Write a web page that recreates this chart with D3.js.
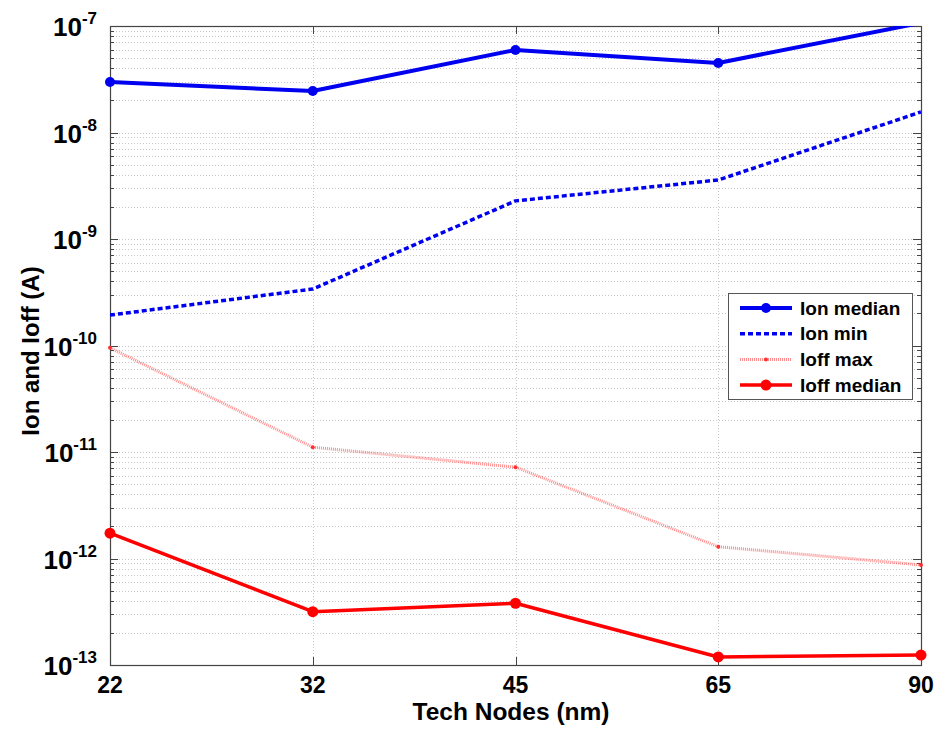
<!DOCTYPE html>
<html>
<head>
<meta charset="utf-8">
<script src="https://cdn.jsdelivr.net/npm/d3@7"></script>
<style>
  body { margin: 0; background: #fff; }
  text { font-family: "Liberation Sans", Arial, sans-serif; font-weight: bold; fill: #000; }
</style>
</head>
<body>
<script>
// data
const nodes = ['22', '32', '45', '65', '90'];
const ionMedian = [2.98e-8, 2.45e-8, 5.96e-8, 4.5e-8, 1.07e-7];
const ionMin = [1.93e-10, 3.39e-10, 2.28e-9, 3.58e-9, 1.56e-8];
const ioffMax = [9.5e-11, 1.11e-11, 7.2e-12, 1.29e-12, 8.7e-13];
const ioffMedian = [1.73e-12, 3.17e-13, 3.8e-13, 1.19e-13, 1.24e-13];
const decades = [-13, -12, -11, -10, -9, -8, -7];

const W = 949, H = 729;
const plotL = 110, plotR = 921, plotT = 26, plotB = 665;

const svg = d3.select('body').append('svg').attr('width', W).attr('height', H);

const x = d3.scalePoint().domain(nodes).range([plotL, plotR]).padding(0);
const y = d3.scaleLog().domain([1e-13, 1e-7]).range([plotB, plotT]);

// minor + major tick values
const minorVals = [];
for (let e = -13; e < -7; e++) {
    for (let m = 2; m <= 9; m++) minorVals.push(m * Math.pow(10, e));
}
const majorVals = decades.map(d => Math.pow(10, d));

// grid
const grid = svg.append('g').attr('stroke', '#c8c8c8').attr('stroke-width', 1)
    .attr('stroke-dasharray', '1,2');
grid.selectAll('line.h').data(minorVals.concat(majorVals)).enter().append('line')
    .attr('x1', plotL).attr('x2', plotR)
    .attr('y1', d => Math.round(y(d)) + 0.5).attr('y2', d => Math.round(y(d)) + 0.5);
grid.selectAll('line.v').data(nodes).enter().append('line')
    .attr('x1', d => Math.round(x(d)) + 0.5).attr('x2', d => Math.round(x(d)) + 0.5)
    .attr('y1', plotT).attr('y2', plotB);

// ticks (inward, both sides)
const ticks = svg.append('g').attr('stroke', '#444').attr('stroke-width', 1);
const tickLen = v => majorVals.includes(v) ? 8 : 4;
minorVals.concat(majorVals).forEach(v => {
    const yy = Math.round(y(v)) + 0.5;
    ticks.append('line').attr('x1', plotL).attr('x2', plotL + tickLen(v)).attr('y1', yy).attr('y2', yy);
    ticks.append('line').attr('x1', plotR - tickLen(v)).attr('x2', plotR).attr('y1', yy).attr('y2', yy);
});
nodes.forEach(n => {
    const xx = Math.round(x(n)) + 0.5;
    ticks.append('line').attr('x1', xx).attr('x2', xx).attr('y1', plotB).attr('y2', plotB - 8);
    ticks.append('line').attr('x1', xx).attr('x2', xx).attr('y1', plotT).attr('y2', plotT + 8);
});

// box
svg.append('rect').attr('x', plotL + 0.5).attr('y', plotT + 0.5)
    .attr('width', plotR - plotL).attr('height', plotB - plotT)
    .attr('fill', 'none').attr('stroke', '#444').attr('stroke-width', 1.2);

// y tick labels
decades.forEach(d => {
    const t = svg.append('text').attr('x', 97).attr('y', y(Math.pow(10, d)) + 10)
        .attr('text-anchor', 'end').attr('font-size', 26);
    t.append('tspan').text('10');
    t.append('tspan').attr('dy', -12).attr('font-size', 17).text(String(d));
});

// x tick labels
svg.selectAll('text.xt').data(nodes).enter().append('text')
    .attr('x', d => x(d)).attr('y', 693).attr('text-anchor', 'middle')
    .attr('font-size', 23).text(d => d);

// axis titles
svg.append('text').attr('x', 511).attr('y', 720).attr('text-anchor', 'middle')
    .attr('font-size', 24.5).text('Tech Nodes (nm)');
svg.append('text').attr('transform', 'translate(39,351) rotate(-90)')
    .attr('text-anchor', 'middle').attr('font-size', 24).text('Ion and Ioff (A)');

// series
svg.append('clipPath').attr('id', 'plot').append('rect')
    .attr('x', plotL).attr('y', plotT).attr('width', plotR - plotL).attr('height', plotB - plotT);

const series = [
    { name: 'Ion median', values: ionMedian, color: '#0000f0', width: 4, dash: null, r: 5, opacity: 1 },
    { name: 'Ion min', values: ionMin, color: '#0000f0', width: 3.5, dash: '5,3', r: 0, opacity: 1 },
    { name: 'Ioff max', values: ioffMax, color: '#ff3030', width: 3, dash: '1,1', r: 2, opacity: 0.55 },
    { name: 'Ioff median', values: ioffMedian, color: '#ff0000', width: 3.5, dash: null, r: 5.5, opacity: 1 }
];

const line = d3.line().x((d, i) => x(nodes[i])).y(d => y(d));
const plot = svg.append('g').attr('clip-path', 'url(#plot)');

series.forEach(s => {
    plot.append('path').datum(s.values).attr('d', line)
        .attr('fill', 'none').attr('stroke', s.color).attr('stroke-width', s.width)
        .attr('stroke-dasharray', s.dash).attr('stroke-opacity', s.opacity)
        .attr('stroke-linejoin', 'round');
    if (s.r > 0) {
        const pts = s.values.map((v, i) => ({ node: nodes[i], v })).filter(p => p.v <= 1e-7);
        svg.append('g').selectAll('circle').data(pts).enter()
            .append('circle')
            .attr('cx', p => x(p.node))
            .attr('cy', p => y(p.v)).attr('r', s.r)
            .attr('fill', s.color);
    }
});

// legend
const lg = svg.append('g').attr('transform', 'translate(728,293)');
lg.append('rect').attr('x', 0.5).attr('y', 0.5).attr('width', 184).attr('height', 106)
    .attr('fill', '#fff').attr('stroke', '#555').attr('stroke-width', 1);
series.forEach((s, i) => {
    const yy = 15 + i * 25.7;
    lg.append('line').attr('x1', 12).attr('x2', 64).attr('y1', yy).attr('y2', yy)
        .attr('stroke', s.color).attr('stroke-width', s.width)
        .attr('stroke-dasharray', s.dash).attr('stroke-opacity', s.opacity);
    if (s.r > 0) {
        lg.append('circle').attr('cx', 38).attr('cy', yy).attr('r', s.r).attr('fill', s.color);
    }
    lg.append('text').attr('x', 72).attr('y', yy + 6.5).attr('font-size', 19).text(s.name);
});
</script>
</body>
</html>
